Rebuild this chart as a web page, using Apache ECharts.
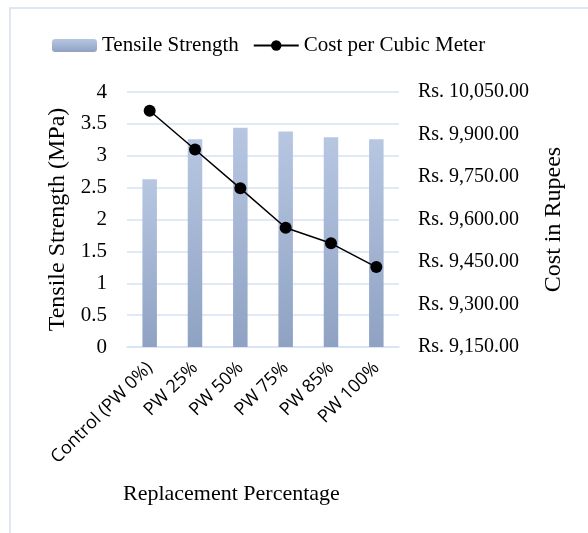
<!DOCTYPE html>
<html><head><meta charset="utf-8">
<script src="https://cdn.jsdelivr.net/npm/echarts@6/dist/echarts.min.js"></script>
<style>html,body{margin:0;padding:0;background:#fff}#c{width:588px;height:533px}</style>
</head><body><div id="c"></div>
<script>
var categories = ['Control (PW 0%)', 'PW 25%', 'PW 50%', 'PW 75%', 'PW 85%', 'PW 100%'];
var tensileStrength = [2.63, 3.26, 3.44, 3.38, 3.29, 3.26];
var costPerCubicMeter = [9984, 9847, 9710, 9571, 9516, 9432];

var serif = 'Liberation Serif';
var chart = echarts.init(document.getElementById('c'));
chart.setOption({
  animation: false,
  backgroundColor: '#fff',
  graphic: [
    {type: 'rect', shape: {x: 10, y: 8, width: 700, height: 700}, style: {fill: 'none', stroke: '#d6e0ee', lineWidth: 1.5}, silent: true},
    {type: 'text', left: 123, top: 483, style: {text: 'Replacement Percentage', font: '22px "Liberation Serif"', fill: '#000'}}
  ],
  legend: {
    left: 47, top: 30,
    itemWidth: 45, itemHeight: 13, itemGap: 14,
    textStyle: {fontFamily: serif, fontSize: 21, color: '#000'},
    data: ['Tensile Strength', 'Cost per Cubic Meter']
  },
  grid: {left: 127, right: 189, top: 92, bottom: 186},
  xAxis: {
    type: 'category', data: categories,
    axisLine: {lineStyle: {color: '#d6e2f3', width: 1.5}},
    axisTick: {show: false},
    axisLabel: {rotate: 45, interval: 0, fontFamily: 'Open Sans', fontSize: 18, color: '#000', margin: 18}
  },
  yAxis: [
    {
      type: 'value', min: 0, max: 4, interval: 0.5,
      name: 'Tensile Strength (MPa)', nameLocation: 'middle', nameGap: 57, nameRotate: 90,
      nameTextStyle: {fontFamily: serif, fontSize: 24, color: '#000'},
      axisLabel: {fontFamily: serif, fontSize: 21, color: '#000', margin: 20},
      splitLine: {lineStyle: {color: '#d6e2f3', width: 1.5}},
      axisLine: {show: false}, axisTick: {show: false}
    },
    {
      type: 'value', min: 9150, max: 10050, interval: 150, position: 'right',
      name: 'Cost in Rupees', nameLocation: 'middle', nameGap: 143, nameRotate: 90,
      nameTextStyle: {fontFamily: serif, fontSize: 24, color: '#000'},
      axisLabel: {fontFamily: serif, fontSize: 20, color: '#000', margin: 19,
        formatter: function (v) { return 'Rs. ' + v.toLocaleString('en-US', {minimumFractionDigits: 2, maximumFractionDigits: 2}); }},
      splitLine: {show: false}, axisLine: {show: false}, axisTick: {show: false}
    }
  ],
  series: [
    {
      name: 'Tensile Strength', type: 'bar', data: tensileStrength, barWidth: '32%', yAxisIndex: 0,
      itemStyle: {color: new echarts.graphic.LinearGradient(0, 0, 0, 1, [
        {offset: 0, color: '#b7c7e2'}, {offset: 1, color: '#8fa2c3'}])}
    },
    {
      name: 'Cost per Cubic Meter', type: 'line', data: costPerCubicMeter, yAxisIndex: 1,
      symbol: 'circle', symbolSize: 12,
      lineStyle: {color: '#000', width: 1.5}, itemStyle: {color: '#000'}
    }
  ]
});
</script></body></html>
